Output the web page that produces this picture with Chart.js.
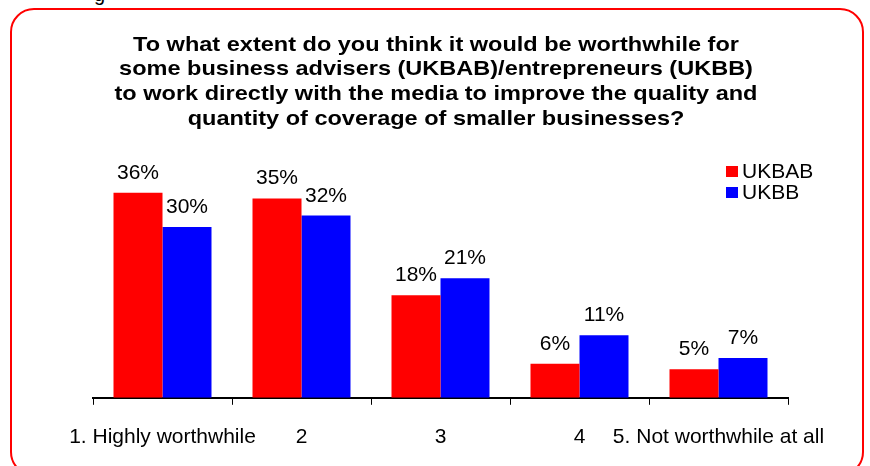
<!DOCTYPE html>
<html>
<head>
<meta charset="utf-8">
<script src="https://cdn.jsdelivr.net/npm/chart.js@4/dist/chart.umd.min.js"></script>
<style>
  html, body { margin: 0; padding: 0; background: #fff; overflow: hidden; }
  #wrap { position: relative; width: 870px; height: 466px; }
  #frame {
    position: absolute; left: 10px; top: 8px; width: 854px; height: 468px;
    border: 2px solid #ff0000; border-radius: 24px; box-sizing: border-box;
  }
  #cut {
    position: absolute; left: 94px; top: -16px; font: 20px "Liberation Sans", Arial, sans-serif;
    line-height: 20px; color: #000;
  }
  #chart { position: absolute; left: 0; top: 0; }
</style>
</head>
<body>
<div id="wrap">
  <div id="cut">g</div>
  <div id="frame"></div>
  <canvas id="chart" width="870" height="466"></canvas>
</div>
<script>
const categories = ['1. Highly worthwhile', '2', '3', '4', '5. Not worthwhile at all'];
const ukbab = [36, 35, 18, 6, 5];
const ukbb = [30, 32, 21, 11, 7];
const titleLines = [
    'To what extent do you think it would be worthwhile for',
    'some business advisers (UKBAB)/entrepreneurs (UKBB)',
    'to work directly with the media to improve the quality and',
    'quantity of coverage of smaller businesses?'
];

const FONT = '"Liberation Sans", Arial, sans-serif';

// title drawn by hand so it can be stretched a bit sideways like the original
const wideTitle = {
    id: 'wideTitle',
    afterDraw(chart) {
        const c = chart.ctx;
        c.save();
        c.font = 'bold 21px ' + FONT;
        c.fillStyle = '#000';
        c.textAlign = 'center';
        c.textBaseline = 'middle';
        c.translate(436, 0);
        c.scale(1.12, 1);
        titleLines.forEach((line, i) => {
            c.fillText(line, 0, 45 + i * 24.7);
        });
        c.restore();
    }
};

// value labels above each bar
const valueLabels = {
    id: 'valueLabels',
    afterDatasetsDraw(chart) {
        const c = chart.ctx;
        c.save();
        c.font = '21px ' + FONT;
        c.fillStyle = '#000';
        c.textAlign = 'center';
        c.textBaseline = 'alphabetic';
        chart.data.datasets.forEach((ds, i) => {
            chart.getDatasetMeta(i).data.forEach((bar, j) => {
                c.fillText(ds.data[j] + '%', bar.x, bar.y - 14);
            });
        });
        c.restore();
    }
};

// small legend inside the plot, top right
const boxLegend = {
    id: 'boxLegend',
    afterDraw(chart) {
        const c = chart.ctx;
        c.save();
        c.font = '21px ' + FONT;
        c.textBaseline = 'middle';
        chart.data.datasets.forEach((ds, i) => {
            const y = 172 + i * 21;
            c.fillStyle = ds.backgroundColor;
            c.fillRect(726, y - 6, 12, 11);
            c.fillStyle = '#000';
            c.fillText(ds.label, 742, y);
        });
        c.restore();
    }
};

const ctx = document.getElementById('chart').getContext('2d');
new Chart(ctx, {
    type: 'bar',
    data: {
        labels: categories,
        datasets: [
            { label: 'UKBAB', data: ukbab, backgroundColor: '#ff0000', categoryPercentage: 0.705, barPercentage: 1 },
            { label: 'UKBB', data: ukbb, backgroundColor: '#0000ff', categoryPercentage: 0.705, barPercentage: 1 }
        ]
    },
    options: {
        responsive: false,
        animation: false,
        layout: { padding: { left: 93, right: 82, top: 170, bottom: -4 } },
        plugins: {
            legend: { display: false },
            tooltip: { enabled: false },
            title: { display: false }
        },
        scales: {
            x: {
                border: { display: true, color: '#000', width: 2 },
                grid: { display: true, offset: true, drawOnChartArea: false, drawTicks: true, tickLength: 7, color: '#000', lineWidth: 1 },
                ticks: { color: '#000', font: { family: FONT, size: 21 }, autoSkip: false, maxRotation: 0, padding: 20 }
            },
            y: {
                display: false,
                min: 0,
                max: 40
            }
        }
    },
    plugins: [valueLabels, boxLegend, wideTitle]
});
</script>
</body>
</html>
